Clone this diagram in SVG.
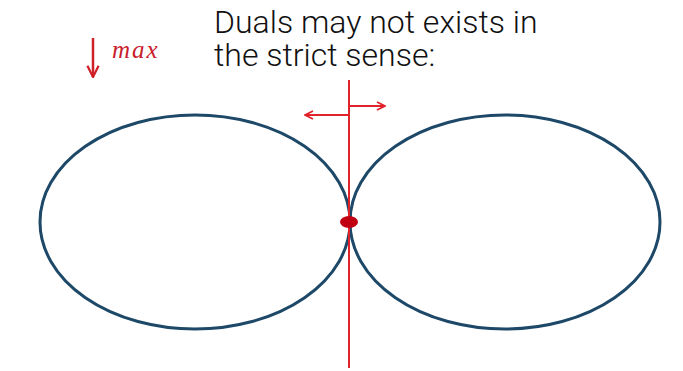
<svg xmlns="http://www.w3.org/2000/svg" width="683" height="371" viewBox="0 0 683 371">
<defs>
<marker id="ah" viewBox="0 0 10 10" refX="9" refY="5" markerWidth="10" markerHeight="10" markerUnits="userSpaceOnUse" orient="auto">
<path d="M1,1 L9,5 L1,9" fill="none" stroke="#e0232b" stroke-width="1.8"/>
</marker>
<marker id="ah2" viewBox="0 0 10 10" refX="9" refY="5" markerWidth="14" markerHeight="14" markerUnits="userSpaceOnUse" orient="auto">
<path d="M1,1 L9,5 L1,9" fill="none" stroke="#d0202a" stroke-width="1.6"/>
</marker>
</defs>
<style>
.ell{fill:none;stroke:#1d4868;stroke-width:3}
.red{stroke:#e0232b;stroke-width:2;fill:none}
.title{font-family:Roboto,"Liberation Sans",sans-serif;font-weight:300;font-size:32px;fill:#111}
</style>
<rect width="683" height="371" fill="#ffffff"/>
<g id="ellipse-left"><ellipse class="ell" cx="195" cy="222" rx="155" ry="107"/></g>
<g id="ellipse-right"><ellipse class="ell" cx="505" cy="222" rx="155" ry="107"/></g>
<g id="title">
<text class="title" x="214" y="33">Duals may not exists in</text>
<text class="title" x="214" y="66">the strict sense:</text>
</g>
<g id="max-label">
<line x1="93" y1="38" x2="93" y2="77" marker-end="url(#ah2)" stroke="#d0202a" stroke-width="2.5"/>
<text x="112" y="58" font-family="'Liberation Serif',serif" font-style="italic" font-size="25" letter-spacing="2" fill="#c8202a">max</text>
</g>
<g id="connectors">
<line class="red" x1="349" y1="80" x2="349" y2="368"/>
<line class="red" x1="349" y1="115" x2="305" y2="115" marker-end="url(#ah)"/>
<line class="red" x1="349" y1="106" x2="385" y2="106" marker-end="url(#ah)"/>
</g>
<g id="point"><ellipse cx="349" cy="222" rx="9" ry="6" fill="#c00010"/></g>
</svg>
